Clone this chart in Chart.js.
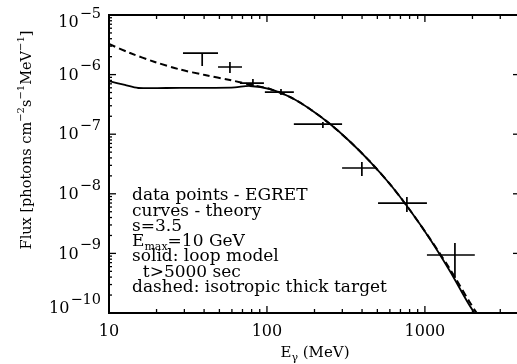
<!DOCTYPE html>
<html>
<head>
<meta charset="utf-8">
<script src="https://cdn.jsdelivr.net/npm/chart.js@4.4.0/dist/chart.umd.min.js"></script>
<style>
html, body { margin: 0; padding: 0; overflow: hidden; background: #fff; }
canvas { display: block; }
</style>
</head>
<body>
<canvas id="fluxChart" width="521" height="364"></canvas>
<script>
// theory curves (E in MeV, flux in photons cm^-2 s^-1 MeV^-1)
const solidEnergy = [10, 12.6, 15.3, 28.1, 46.9, 62.7, 78, 104.5, 140, 187, 251, 335, 449, 600, 803, 1076, 1439, 1927, 2229];
const solidFlux = [7.8e-7, 6.7e-7, 5.96e-7, 6.0e-7, 6.0e-7, 6.1e-7, 6.44e-7, 5.73e-7, 4.21e-7, 2.65e-7, 1.48e-7, 7.55e-8, 3.48e-8, 1.46e-8, 5.35e-9, 1.75e-9, 5.07e-10, 1.31e-10, 7.6e-11];

const dashedEnergy = [10, 13.6, 19.5, 28.1, 40.5, 58.3, 80.4, 104.5, 140, 187, 251, 335, 449, 600, 803, 1076, 1439, 1927, 2229];
const dashedFlux = [3.26e-6, 2.30e-6, 1.63e-6, 1.22e-6, 9.84e-7, 8.11e-7, 6.7e-7, 5.73e-7, 4.21e-7, 2.65e-7, 1.48e-7, 7.55e-8, 3.48e-8, 1.46e-8, 5.35e-9, 1.77e-9, 5.47e-10, 1.5e-10, 8.3e-11];

// EGRET data points with error bars
const egretEnergy = [38.9, 58.3, 81.5, 122.7, 226, 399, 769, 1549];
const egretEnergyLow = [29.4, 49.0, 67.5, 97, 148, 299, 505, 1030];
const egretEnergyHigh = [49.0, 69.5, 95.7, 148, 299, 497, 1030, 2070];
const egretFlux = [2.30e-6, 1.34e-6, 7.2e-7, 5.1e-7, 1.48e-7, 2.71e-8, 7.0e-9, 9.4e-10];
const egretFluxLow = [1.39e-6, 1.06e-6, 6.2e-7, 4.55e-7, 1.27e-7, 1.99e-8, 4.95e-9, 3.86e-10];
const egretFluxHigh = [2.30e-6, 1.63e-6, 8.43e-7, 5.73e-7, 1.6e-7, 3.42e-8, 8.8e-9, 1.49e-9];

// tick labels
const xTickValues = [10, 100, 1000];
const xTickLabels = ['10', '100', '1000'];
const yTickValues = [1e-5, 1e-6, 1e-7, 1e-8, 1e-9, 1e-10];
const yTickExponents = ['\u22125', '\u22126', '\u22127', '\u22128', '\u22129', '\u221210'];

const noteLines = [
    'data points - EGRET',
    'curves - theory',
    's=3.5',
    null, // E_max line, drawn with a subscript
    'solid: loop model',
    '  t>5000 sec',
    'dashed: isotropic thick target'
];

// error bars as line segments broken by gaps
function errorBarPoints() {
    const pts = [];
    for (let i = 0; i < egretEnergy.length; i++) {
        pts.push({x: egretEnergyLow[i], y: egretFlux[i]});
        pts.push({x: egretEnergyHigh[i], y: egretFlux[i]});
        pts.push({x: egretEnergy[i], y: null});
        pts.push({x: egretEnergy[i], y: egretFluxLow[i]});
        pts.push({x: egretEnergy[i], y: egretFluxHigh[i]});
        pts.push({x: egretEnergy[i], y: null});
    }
    return pts;
}

const FONT = '"DejaVu Serif"';

// draws the frame, inward ticks, superscript labels and the note
const framePlugin = {
    id: 'framePlugin',
    afterDatasetsDraw(chart) {
        const ctx = chart.ctx;
        const a = chart.chartArea;
        const x = chart.scales.x;
        const y = chart.scales.y;
        ctx.save();
        ctx.strokeStyle = '#000';
        ctx.fillStyle = '#000';

        function seg(x1, y1, x2, y2) {
            ctx.beginPath();
            ctx.moveTo(x1, y1);
            ctx.lineTo(x2, y2);
            ctx.stroke();
        }

        ctx.lineWidth = 1.3;
        for (let d = 1; d <= 3; d++) {
            for (let k = 1; k <= 9; k++) {
                const v = k * Math.pow(10, d);
                if (v > x.max) continue;
                const px = x.getPixelForValue(v);
                const len = k === 1 ? 7 : 4;
                seg(px, a.bottom, px, a.bottom - len);
                seg(px, a.top, px, a.top + len);
            }
        }
        for (let d = -10; d <= -6; d++) {
            for (let k = 1; k <= 9; k++) {
                const v = k * Math.pow(10, d);
                const py = y.getPixelForValue(v);
                const len = k === 1 ? 7 : 3;
                seg(a.left, py, a.left + len, py);
                seg(a.right, py, a.right - len, py);
            }
        }

        ctx.lineWidth = 2;
        ctx.strokeRect(a.left, a.top, a.right - a.left, a.bottom - a.top);

        // y tick labels 10^-n
        ctx.textBaseline = 'middle';
        ctx.textAlign = 'right';
        yTickValues.forEach((v, i) => {
            let py = y.getPixelForValue(v);
            if (i === 0) py += 7;
            if (i === yTickValues.length - 1) py -= 5;
            ctx.font = '14.5px ' + FONT;
            const w = ctx.measureText(yTickExponents[i]).width;
            ctx.fillText(yTickExponents[i], 101, py - 8);
            ctx.font = '16px ' + FONT;
            ctx.fillText('10', 101 - w - 1, py + 1);
        });

        // x tick labels
        ctx.textAlign = 'center';
        ctx.font = '16px ' + FONT;
        xTickValues.forEach((v, i) => {
            ctx.fillText(xTickLabels[i], x.getPixelForValue(v), 332);
        });

        // x title: E_gamma (MeV)
        ctx.textAlign = 'left';
        ctx.font = '15px ' + FONT;
        const wE = ctx.measureText('E').width;
        const wRest = ctx.measureText(' (MeV)').width;
        ctx.font = '11px ' + FONT;
        const wG = ctx.measureText('\u03b3').width;
        const tx = 315 - (wE + wG + wRest) / 2;
        ctx.font = '15px ' + FONT;
        ctx.fillText('E', tx, 353);
        ctx.font = '11px ' + FONT;
        ctx.fillText('\u03b3', tx + wE, 358);
        ctx.font = '15px ' + FONT;
        ctx.fillText(' (MeV)', tx + wE + wG, 353);

        // y title, rotated
        const parts = [
            ['Flux [photons cm', 0], ['\u22122', 1], ['s', 0], ['\u22121', 1],
            ['MeV', 0], ['\u22121', 1], [']', 0]
        ];
        let total = 0;
        parts.forEach(p => {
            ctx.font = (p[1] ? '10px ' : '14.5px ') + FONT;
            total += ctx.measureText(p[0]).width;
        });
        ctx.translate(27, 140);
        ctx.rotate(-Math.PI / 2);
        let cx = -total / 2;
        parts.forEach(p => {
            ctx.font = (p[1] ? '10px ' : '14.5px ') + FONT;
            ctx.fillText(p[0], cx, p[1] ? -6 : 0);
            cx += ctx.measureText(p[0]).width;
        });
        ctx.setTransform(1, 0, 0, 1, 0, 0);

        // note in the lower left
        const noteY = [196, 212, 227, 242, 257, 273, 288];
        const noteFont = '17px ' + FONT;
        noteLines.forEach((t, i) => {
            ctx.font = noteFont;
            if (t !== null) {
                ctx.fillText(t, 132, noteY[i]);
            } else {
                ctx.fillText('E', 132, noteY[i]);
                const we = ctx.measureText('E').width;
                ctx.font = '11px ' + FONT;
                ctx.fillText('max', 132 + we, noteY[i] + 5);
                const wm = ctx.measureText('max').width;
                ctx.font = noteFont;
                ctx.fillText('=10 GeV', 132 + we + wm, noteY[i]);
            }
        });
        ctx.restore();
    }
};

const ctx = document.getElementById('fluxChart').getContext('2d');
new Chart(ctx, {
    type: 'scatter',
    data: {
        datasets: [{
            label: 'solid: loop model',
            data: solidEnergy.map((e, i) => ({x: e, y: solidFlux[i]})),
            showLine: true,
            borderColor: '#000',
            borderWidth: 1.8,
            pointRadius: 0,
            tension: 0.3
        }, {
            label: 'dashed: isotropic thick target',
            data: dashedEnergy.map((e, i) => ({x: e, y: dashedFlux[i]})),
            showLine: true,
            borderColor: '#000',
            borderWidth: 2,
            borderDash: [7, 4],
            pointRadius: 0,
            tension: 0.3
        }, {
            label: 'EGRET',
            data: errorBarPoints(),
            showLine: true,
            spanGaps: false,
            borderColor: '#000',
            borderWidth: 1.7,
            pointRadius: 0
        }]
    },
    options: {
        responsive: false,
        animation: false,
        layout: {
            padding: {left: 109, top: 15, right: 1, bottom: 51}
        },
        plugins: {
            legend: {display: false},
            tooltip: {enabled: false}
        },
        scales: {
            x: {
                type: 'logarithmic',
                min: 10,
                max: 4000,
                display: false
            },
            y: {
                type: 'logarithmic',
                min: 1e-10,
                max: 1e-5,
                display: false
            }
        }
    },
    plugins: [framePlugin]
});
</script>
</body>
</html>
